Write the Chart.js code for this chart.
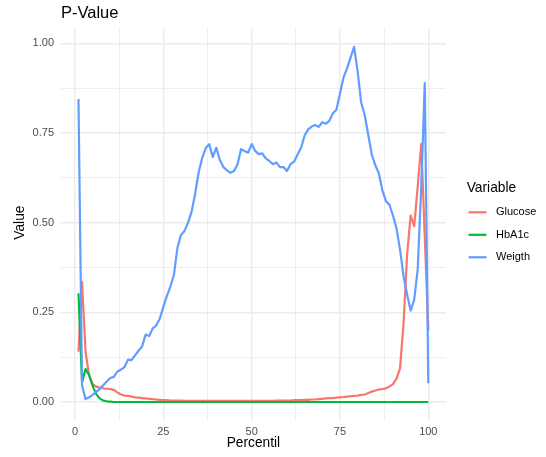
<!DOCTYPE html>
<html>
<head>
<meta charset="utf-8">
<script src="https://cdn.jsdelivr.net/npm/chart.js@4.4.0/dist/chart.umd.min.js"></script>
<style>
html,body{margin:0;padding:0;background:#fff;}
#wrap{width:546px;height:457px;position:relative;}
</style>
</head>
<body>
<div id="wrap"><canvas id="c" width="546" height="457"></canvas></div>
<script>
const chartTitle = "P-Value";
const xTitle = "Percentil";
const yTitle = "Value";
const legendTitle = "Variable";
const seriesNames = ["Glucose", "HbA1c", "Weigth"];

const percentiles = [1,2,3,4,5,6,7,8,9,10,11,12,13,14,15,16,17,18,19,20,
21,22,23,24,25,26,27,28,29,30,31,32,33,34,35,36,37,38,39,40,
41,42,43,44,45,46,47,48,49,50,51,52,53,54,55,56,57,58,59,60,
61,62,63,64,65,66,67,68,69,70,71,72,73,74,75,76,77,78,79,80,
81,82,83,84,85,86,87,88,89,90,91,92,93,94,95,96,97,98,99,100];

const glucose = [0.140,0.335,0.140,0.075,0.050,0.043,0.040,0.038,0.037,0.036,
0.034,0.027,0.021,0.018,0.017,0.015,0.013,0.012,0.011,0.010,
0.009,0.008,0.007,0.006,0.005,0.005,0.004,0.004,0.004,0.004,
0.003,0.003,0.003,0.003,0.003,0.003,0.003,0.003,0.003,0.003,
0.003,0.003,0.003,0.003,0.003,0.003,0.003,0.003,0.003,0.003,
0.003,0.003,0.003,0.003,0.003,0.003,0.004,0.004,0.004,0.004,
0.004,0.005,0.005,0.005,0.006,0.006,0.007,0.007,0.008,0.009,
0.010,0.011,0.011,0.012,0.013,0.014,0.015,0.016,0.017,0.018,
0.020,0.021,0.025,0.029,0.032,0.035,0.036,0.038,0.043,0.050,
0.065,0.094,0.220,0.410,0.520,0.490,0.600,0.720,0.460,0.200];

const hba1c = [0.303,0.055,0.092,0.075,0.045,0.022,0.010,0.004,0.002,0.001,
0,0,0,0,0,0,0,0,0,0, 0,0,0,0,0,0,0,0,0,0, 0,0,0,0,0,0,0,0,0,0,
0,0,0,0,0,0,0,0,0,0, 0,0,0,0,0,0,0,0,0,0, 0,0,0,0,0,0,0,0,0,0,
0,0,0,0,0,0,0,0,0,0, 0,0,0,0,0,0,0,0,0,0, 0,0,0,0,0,0,0,0,0,0];

const weigth = [0.845,0.047,0.008,0.013,0.020,0.028,0.036,0.047,0.057,0.067,
0.070,0.085,0.090,0.097,0.118,0.117,0.130,0.143,0.155,0.188,
0.184,0.205,0.213,0.232,0.265,0.295,0.322,0.354,0.430,0.466,
0.477,0.500,0.530,0.580,0.640,0.680,0.708,0.719,0.683,0.709,
0.675,0.655,0.646,0.639,0.644,0.662,0.705,0.700,0.695,0.719,
0.700,0.691,0.693,0.679,0.672,0.663,0.668,0.655,0.655,0.644,
0.663,0.670,0.690,0.709,0.743,0.760,0.768,0.772,0.767,0.780,
0.776,0.784,0.805,0.815,0.860,0.905,0.930,0.960,0.990,0.922,
0.835,0.800,0.745,0.690,0.660,0.638,0.590,0.560,0.550,0.520,
0.484,0.425,0.350,0.300,0.255,0.285,0.370,0.600,0.889,0.052];

const xTickValues = [0,12.5,25,37.5,50,62.5,75,87.5,100];
const xTickLabels = {0:"0",25:"25",50:"50",75:"75",100:"100"};
const yTickValues = [0,0.125,0.25,0.375,0.5,0.625,0.75,0.875,1.0];
const yTickLabels = {0:"0.00",0.25:"0.25",0.5:"0.50",0.75:"0.75",1:"1.00"};

const colors = ["#F8766D", "#00BA38", "#619CFF"];
const seriesValues = [glucose, hba1c, weigth];
const FONT = "'Liberation Sans', Arial, Helvetica, sans-serif";

function toPoints(vals){ return percentiles.map((p,i)=>({x:p, y:vals[i]})); }

const datasets = seriesNames.map((name,i)=>({
  label: name,
  data: toPoints(seriesValues[i]),
  borderColor: colors[i],
  backgroundColor: colors[i],
  borderWidth: 2.2,
  pointRadius: 0,
  pointHoverRadius: 0,
  tension: 0,
  fill: false,
  borderJoinStyle: 'round',
  borderCapStyle: 'butt',
  order: 2 - i
}));

const isMajor = (v, step) => Math.abs(v/step - Math.round(v/step)) < 1e-6;

const decorPlugin = {
  id: 'decor',
  afterDraw(chart){
    const ctx = chart.ctx;
    const ca = chart.chartArea;
    ctx.save();
    ctx.fillStyle = '#000';
    // title
    ctx.font = `16.5px ${FONT}`;
    ctx.textAlign = 'left';
    ctx.textBaseline = 'alphabetic';
    ctx.fillText(chartTitle, ca.left, 18.3);
    // x title
    ctx.font = `13.75px ${FONT}`;
    ctx.textAlign = 'center';
    ctx.textBaseline = 'middle';
    ctx.fillText(xTitle, (ca.left+ca.right)/2, 443.5);
    // y title
    ctx.save();
    ctx.translate(20.5, (ca.top+ca.bottom)/2 - 1.5);
    ctx.rotate(-Math.PI/2);
    ctx.fillText(yTitle, 0, 0);
    ctx.restore();
    // legend
    ctx.textAlign = 'left';
    ctx.font = `13.75px ${FONT}`;
    ctx.fillText(legendTitle, 466.7, 188.5);
    ctx.font = `11px ${FONT}`;
    const ys = [212.3, 234.8, 257.3];
    chart.data.datasets.forEach((ds,i)=>{
      ctx.strokeStyle = ds.borderColor;
      ctx.lineWidth = 2.2;
      ctx.beginPath();
      ctx.moveTo(468.5, ys[i]);
      ctx.lineTo(486.5, ys[i]);
      ctx.stroke();
      ctx.fillStyle = '#000';
      ctx.fillText(ds.label, 496, ys[i]);
    });
    ctx.restore();
  }
};

new Chart(document.getElementById('c'), {
  type: 'line',
  data: { datasets },
  options: {
    responsive: false,
    animation: false,
    devicePixelRatio: 1,
    layout: { padding: { top: 28.4, right: 100.2, left: 0, bottom: 0 } },
    plugins: { legend: { display: false }, title: { display: false }, tooltip: { enabled: false } },
    scales: {
      x: {
        type: 'linear',
        min: -3.95, max: 104.95,
        border: { display: false },
        grid: {
          drawTicks: false,
          color: '#EBEBEB',
          lineWidth: (c)=> isMajor(c.tick.value, 25) ? 1.4 : 0.8
        },
        afterBuildTicks: (s)=>{ s.ticks = xTickValues.map(v=>({value:v})); },
        afterFit: (s)=>{ s.height = 37.2; },
        ticks: {
          autoSkip: false, maxRotation: 0, padding: 5.5,
          color: '#4D4D4D',
          font: { family: FONT, size: 11 },
          callback: (v)=> (xTickLabels[v] !== undefined ? xTickLabels[v] : '')
        }
      },
      y: {
        type: 'linear',
        min: -0.0496, max: 1.0416,
        border: { display: false },
        grid: {
          drawTicks: false,
          color: '#EBEBEB',
          lineWidth: (c)=> isMajor(c.tick.value, 0.25) ? 1.4 : 0.8
        },
        afterBuildTicks: (s)=>{ s.ticks = yTickValues.map(v=>({value:v})); },
        afterFit: (s)=>{ s.width = 61; },
        ticks: {
          autoSkip: false, padding: 7,
          color: '#4D4D4D',
          font: { family: FONT, size: 11 },
          callback: (v)=> (yTickLabels[v] !== undefined ? yTickLabels[v] : '')
        }
      }
    }
  },
  plugins: [decorPlugin]
});
</script>
</body>
</html>
